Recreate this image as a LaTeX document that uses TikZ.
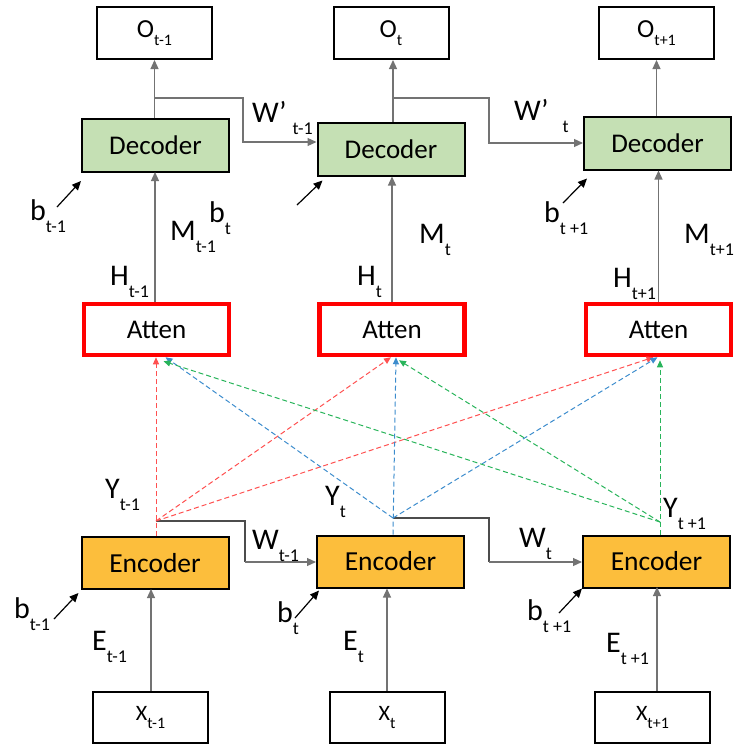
\documentclass[tikz,border=0pt]{standalone}
\usepackage{fontspec}
\setmainfont{Carlito}
\usetikzlibrary{arrows.meta}
\definecolor{decfill}{RGB}{197,224,180}
\definecolor{encfill}{RGB}{252,190,60}
\definecolor{attred}{RGB}{255,0,0}
\definecolor{dashred}{RGB}{255,80,80}
\definecolor{dashblue}{RGB}{60,140,205}
\definecolor{dashgreen}{RGB}{40,180,90}
% label with a lowered index, as the picture sets it
\newcommand{\lbl}[2]{{\fontsize{30}{30}\selectfont #1}\raisebox{-12pt}{\fontsize{18}{18}\selectfont #2}}
\newcommand{\bsub}[2]{#1\raisebox{-8pt}{\fontsize{16}{16}\selectfont #2}}
\begin{document}
\begin{tikzpicture}[
  x=1pt, y=-1pt,
  box/.style={draw=black, line width=2pt, inner sep=0pt, font=\fontsize{26}{26}\selectfont},
  outbox/.style={box, minimum width=115pt, minimum height=52pt},
  inbox/.style={box, minimum width=115pt, minimum height=51pt, font=\fontsize{22}{22}\selectfont},
  decbox/.style={box, fill=decfill, minimum width=147pt, minimum height=53pt, font=\fontsize{27}{27}\selectfont},
  encbox/.style={box, fill=encfill, minimum width=147pt, minimum height=52pt, font=\fontsize{27.5}{27.5}\selectfont},
  attbox/.style={box, draw=attred, line width=4.5pt, minimum width=145pt, minimum height=51pt, font=\fontsize{27}{27}\selectfont},
  lab/.style={anchor=base west, inner sep=0pt},
  conn/.style={draw=black!55, line width=1.2pt, -{Triangle[length=9pt,width=8pt]}},
  flow/.style={draw=black!70, line width=1.2pt},
  bias/.style={draw=black, line width=1.2pt, -{Triangle[length=9pt,width=8pt]}},
  dsh/.style={line width=1pt, dash pattern=on 5pt off 3pt, -{Triangle[length=7pt,width=6pt]}}
]
\useasboundingbox (0,0) rectangle (736,745);

% outputs
\node[outbox] (o1) at (154.5,33) {\bsub{O}{t-1}};
\node[outbox] (o2) at (391,33) {\bsub{O}{t}};
\node[outbox] (o3) at (656.5,33) {\bsub{O}{t+1}};

% decoders
\node[decbox] (dec1) at (155.5,145.5) {Decoder};
\node[decbox] (dec2) at (391,149) {Decoder};
\node[decbox] (dec3) at (657.5,143) {Decoder};

% attention
\node[attbox] (att1) at (156.5,329.5) {Atten};
\node[attbox] (att2) at (392,329.5) {Atten};
\node[attbox] (att3) at (658.5,329.5) {Atten};

% encoders
\node[encbox] (enc1) at (155,563) {Encoder};
\node[encbox] (enc2) at (390.5,561.5) {Encoder};
\node[encbox] (enc3) at (656.5,561.5) {Encoder};

% inputs
\node[inbox] (x1) at (150.5,717.5) {\bsub{X}{t-1}};
\node[inbox] (x2) at (387,717.5) {\bsub{X}{t}};
\node[inbox] (x3) at (652.5,717.5) {\bsub{X}{t+1}};

% branch points
\coordinate (br1) at (154,98);
\coordinate (br2) at (393,98);
\coordinate (y1) at (156,521);
\coordinate (y2) at (393,518);
\coordinate (y3) at (660,522);

% decoder to output, and to the next decoder
\draw[conn] (o1.south |- dec1.north) -- (o1.south);
\draw[conn] (br2 |- dec2.north) -- (br2 |- o2.south);
\draw[conn] (o3.south |- dec3.north) -- (o3.south);
\draw[conn] (br1) -- (243,98) |- ([yshift=7pt]dec2.west);
\draw[conn] (br2) -- (489,98) |- (dec3.west);

% attention to decoder
\draw[conn] (155,302) -- (155,172);
\draw[conn] (att2.north) -- (att2.north |- dec2.south);
\draw[conn] (att3.north) -- (att3.north |- dec3.south);

% input to encoder
\draw[conn] (x1.north -| 151,0) -- (151,589);
\draw[conn] (x2.north) -- (x2.north |- enc2.south);
\draw[conn] (x3.north -| 657,0) -- (657,587);

% encoder to next encoder
\draw[flow] (y1) -- (245,521) -- (245,562);
\draw[conn] (245,562) -- (enc2.west |- 0,562);
\draw[flow] (y2) -- (489,518) -- (489,562);
\draw[conn] (489,562) -- (enc3.west |- 0,562);

% bias arrows
\coordinate (bd1) at (57,207);
\coordinate (bd2) at (297,205);
\coordinate (bd3) at (563,203);
\coordinate (be1) at (54,619);
\coordinate (be2) at (295,618);
\coordinate (be3) at (559,613);
\draw[bias] (bd1) -- ([yshift=-8pt]dec1.south west);
\draw[bias] (bd2) -- ([yshift=-4pt,xshift=6pt]dec2.south west);
\draw[bias] (bd3) -- ([yshift=-8pt,xshift=4pt]dec3.south west);
\draw[bias] (be1) -- ([yshift=-3pt,xshift=-2pt]enc1.south west);
\draw[bias] (be2) -- ([yshift=-2pt,xshift=3pt]enc2.south west);
\draw[bias] (be3) -- (enc3.south west);

% encoder outputs into every attention block
\draw[dsh, dashred] (y1 |- enc1.north) -- (y1 |- att1.south);
\draw[dsh, dashred] (y1) -- ([xshift=-1pt]att2.south);
\draw[dsh, dashred] (y1) -- ([xshift=-5pt]att3.south);
\draw[dsh, dashblue] (y2 |- enc2.north) -- ([xshift=4pt]att2.south);
\draw[dsh, dashblue] (y2) -- ([xshift=9pt]att1.south);
\draw[dsh, dashblue] (y2) -- ([xshift=-1pt]att3.south);
\draw[dsh, dashgreen] (y3 |- enc3.north) -- ([xshift=1.5pt,yshift=-3pt]att3.south);
\draw[dsh, dashgreen] (y3) -- ([xshift=7pt,yshift=-4pt]att1.south);
\draw[dsh, dashgreen] (y3) -- ([xshift=7pt,yshift=-3pt]att2.south);

% labels
\node[lab] (lwd1) at (252,122) {\lbl{W’}{\hspace{6pt}t-1}};
\node[lab] (lwd2) at (514,120) {\lbl{W’}{\hspace{14pt}t}};
\node[lab] (lbd1) at (30,220) {\lbl{b}{t-1}};
\node[lab] (lbd2) at (209,222) {\lbl{b}{t}};
\node[lab] (lbd3) at (544,222) {\lbl{b}{t +1}};
\node[lab] (lm1) at (170,240) {\lbl{M}{t-1}};
\node[lab] (lm2) at (419,243) {\lbl{M}{t}};
\node[lab] (lm3) at (684,243) {\lbl{M}{t+1}};
\node[lab] (lh1) at (110,285) {\lbl{H}{t-1}};
\node[lab] (lh2) at (357,285) {\lbl{H}{t}};
\node[lab] (lh3) at (613,287) {\lbl{H}{t+1}};
\node[lab] (ly1) at (105,498) {\lbl{Y}{t-1}};
\node[lab] (ly2) at (325,505) {\lbl{Y}{t}};
\node[lab] (ly3) at (663,517) {\lbl{Y}{t +1}};
\node[lab] (lw1) at (252,549) {\lbl{W}{t-1}};
\node[lab] (lw2) at (519,547) {\lbl{W}{t}};
\node[lab] (lbe1) at (14,618) {\lbl{b}{t-1}};
\node[lab] (lbe2) at (277,622) {\lbl{b}{t}};
\node[lab] (lbe3) at (527,620) {\lbl{b}{t +1}};
\node[lab] (le1) at (92,650) {\lbl{E}{t-1}};
\node[lab] (le2) at (343,650) {\lbl{E}{t}};
\node[lab] (le3) at (606,652) {\lbl{E}{t +1}};
\end{tikzpicture}
\end{document}
